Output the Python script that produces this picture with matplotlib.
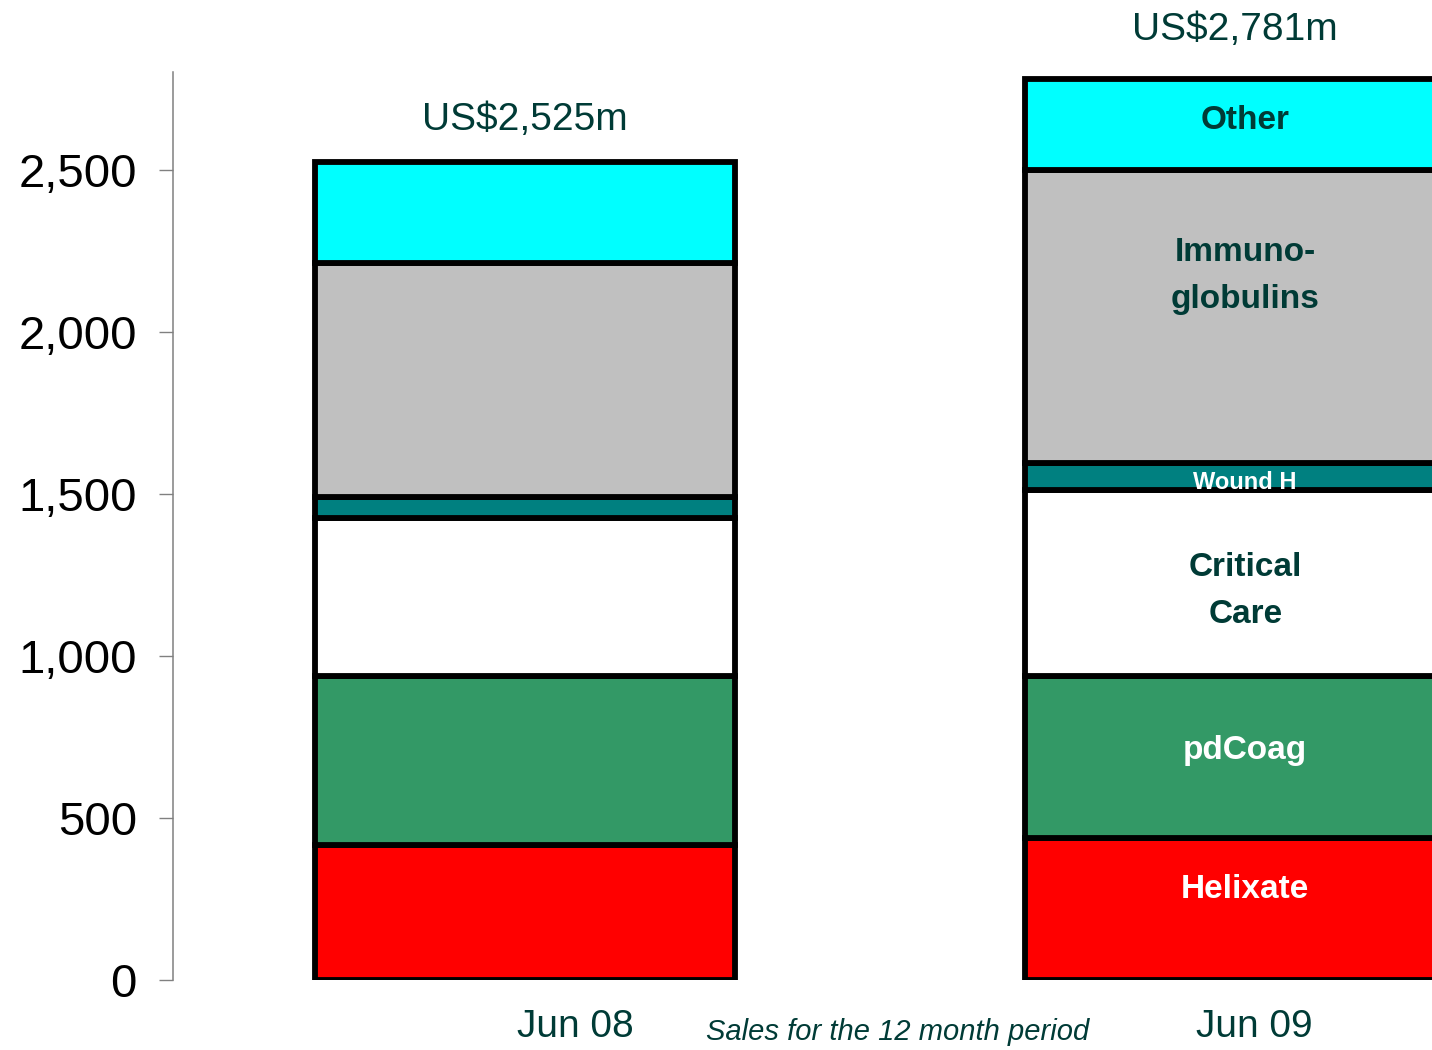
#!/usr/bin/env python3
"""Stacked sales bars, Jun 08 vs Jun 09 (US$m)."""

import matplotlib

matplotlib.use("Agg")
import matplotlib.pyplot as plt
import numpy as np

PERIODS = ["Jun 08", "Jun 09"]
TOTALS = ["US$2,525m", "US$2,781m"]
SEGMENTS = ["Helixate", "pdCoag", "Critical\nCare", "Wound H", "Immuno-\nglobulins", "Other"]
JUN08 = [417, 521, 488, 65, 722, 312]
JUN09 = [438, 500, 574, 84, 904, 281]

COLORS = ["#FF0000", "#339966", "#FFFFFF", "#008080", "#C0C0C0", "#00FFFF"]
LABEL_COLORS = ["white", "white", "#003B36", "white", "#003B36", "#003B36"]
LABEL_SIZES = [24, 24, 24, 17, 24, 24]
LABEL_SHIFT = [60, 20, -25, -20, 125, 12]  # nudges in data units, as on the slide

TEXT = "#003B36"

plt.rcParams["font.family"] = ["Liberation Sans", "DejaVu Sans"]

fig = plt.figure(figsize=(14.32, 10.5), dpi=100)
ax = fig.add_axes([0.1208, 0.0667, 0.8792, 0.8647])

x = np.arange(len(PERIODS))
width = 0.5915
data = np.array([JUN08, JUN09])
bottoms = np.zeros(len(PERIODS))
for i, seg in enumerate(SEGMENTS):
    vals = data[:, i]
    ax.bar(x, vals, width=width, bottom=bottoms, color=COLORS[i],
           edgecolor="black", linewidth=4.2, zorder=3)
    # labels only on the Jun 09 bar
    ax.text(x[1] + 0.014, bottoms[1] + vals[1] / 2 + LABEL_SHIFT[i], seg,
            ha="center", va="center", fontsize=LABEL_SIZES[i],
            fontweight="bold", color=LABEL_COLORS[i], linespacing=1.65,
            zorder=4)
    bottoms += vals

for xi, tot, label in zip(x, bottoms, TOTALS):
    ax.annotate(label, (xi, tot), xytext=(0, 30 if xi == 0 else 35),
                textcoords="offset points", ha="center", va="center",
                fontsize=28, color=TEXT, annotation_clip=False)

ax.set_xlim(-0.4958, 1.277)
ax.set_ylim(0, 2802)
ax.set_yticks(range(0, 2501, 500))
ax.set_yticklabels([f"{v:,}" for v in range(0, 2501, 500)])
ax.tick_params(axis="y", labelsize=34, length=10, width=1, color="#808080", pad=16)
ax.set_xticks([])
for side in ["top", "right", "bottom"]:
    ax.spines[side].set_visible(False)
ax.spines["left"].set_color("#808080")
ax.spines["left"].set_linewidth(1.1)

for xi, per in zip(x, PERIODS):
    ax.annotate(per, (xi, 0), xytext=(36 if xi == 0 else 14, -34),
                textcoords="offset points", ha="center", va="center",
                fontsize=28, color=TEXT, annotation_clip=False)
fig.text(0.627, 0.017, "Sales for the 12 month period", ha="center", va="center",
         fontsize=21, style="italic", color=TEXT)

fig.savefig("out.png", dpi=100)
